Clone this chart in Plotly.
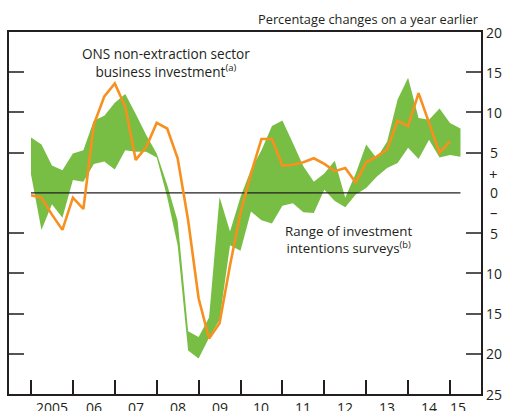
import plotly.graph_objects as go

# Quarterly observations, 2005 Q1 onwards
start_year = 2005

survey_upper = [6.9, 6.0, 3.4, 2.8, 4.9, 5.3, 9.0, 9.6, 11.2, 12.3, 9.8, 7.2,
                4.9, 1.0, -3.5, -17.2, -17.9, -15.5, -0.5, -4.8, -0.5, 2.9,
                5.3, 8.3, 9.0, 6.2, 3.3, 1.4, 2.4, 4.0, -0.6, 2.4, 6.0, 4.3,
                6.4, 11.6, 14.3, 9.3, 9.1, 10.5, 8.7, 8.0]
survey_lower = [2.3, -4.6, -1.4, -3.1, 1.6, 1.4, 3.6, 3.9, 2.9, 5.3, 5.1, 5.1,
                4.4, -0.5, -6.5, -19.6, -20.6, -18.0, -15.8, -6.5, -7.2, -2.3,
                -3.4, -3.8, -1.6, -1.3, -2.4, -2.5, 0.4, -1.0, -1.8, -0.2, 0.6,
                2.0, 3.1, 3.7, 5.6, 4.2, 6.6, 4.4, 4.7, 4.5]
ons_investment = [-0.3, -0.6, -2.7, -4.6, -0.6, -2.0, 8.5, 12.0, 13.6, 10.7, 4.1,
                  5.7, 8.7, 8.0, 4.3, -3.4, -13.1, -18.1, -16.2, -9.0, -2.5, 2.4,
                  6.7, 6.7, 3.4, 3.5, 3.8, 4.3, 3.6, 2.7, 3.1, 1.3, 3.8, 4.5,
                  5.4, 9.0, 8.3, 12.4, 8.7, 5.0, 6.4]

year_labels = ["2005", "06", "07", "08", "09", "10", "11", "12", "13", "14", "15"]
y_tick_values = [20, 15, 10, 5, 0, -5, -10, -15, -20, -25]
y_tick_labels = ["20", "15", "10", "5", "0", "5", "10", "15", "20", "25"]

GREEN = "#78BE44"
ORANGE = "#F7901E"
FONT = "Open Sans"
INK = "#231F20"

t_band = [start_year + i / 4 for i in range(len(survey_upper))]
t_ons = [start_year + i / 4 for i in range(len(ons_investment))]

fig = go.Figure()
fig.add_trace(go.Scatter(
    x=t_band + t_band[::-1],
    y=survey_upper + survey_lower[::-1],
    fill="toself", fillcolor=GREEN, mode="none", hoverinfo="skip",
    showlegend=False))
fig.add_trace(go.Scatter(
    x=[t_band[0], t_band[-1]], y=[0, 0], mode="lines",
    line=dict(color=INK, width=1.2), showlegend=False, hoverinfo="skip"))
fig.add_trace(go.Scatter(
    x=t_ons, y=ons_investment, mode="lines",
    line=dict(color=ORANGE, width=2.6), showlegend=False))

annotations = []
for k, lab in enumerate(year_labels):
    xc = start_year + k + 0.5 if k < len(year_labels) - 1 else start_year + k + 0.19
    annotations.append(dict(x=xc, y=-0.036, xref="x", yref="paper", text=lab,
                            showarrow=False, xanchor="center", yanchor="middle",
                            font=dict(size=14, color=INK, family=FONT)))
for v, lab in zip(y_tick_values, y_tick_labels):
    annotations.append(dict(x=1.0275, y=v, xref="paper", yref="y", text=lab,
                            showarrow=False, xanchor="center", yanchor="middle",
                            font=dict(size=14, color=INK, family=FONT)))
annotations.append(dict(x=1.0275, y=2.4, xref="paper", yref="y", text="+",
                        showarrow=False, xanchor="center", yanchor="middle",
                        font=dict(size=15, color=INK, family=FONT)))
annotations.append(dict(x=1.0275, y=-2.4, xref="paper", yref="y", text="–",
                        showarrow=False, xanchor="center", yanchor="middle",
                        font=dict(size=15, color=INK, family=FONT)))
annotations.append(dict(x=1.0, y=1.036, xref="paper", yref="paper",
                        text="Percentage changes on a year earlier",
                        showarrow=False, xanchor="right", yanchor="middle",
                        font=dict(size=12.8, color=INK, family=FONT)))
annotations.append(dict(x=2008.22, y=16.2, xref="x", yref="y",
                        text="ONS non-extraction sector<br>business investment<sup>(a)</sup>",
                        showarrow=False, xanchor="center", yanchor="middle", align="center",
                        font=dict(size=13.6, color=INK, family=FONT)))
annotations.append(dict(x=2012.57, y=-5.85, xref="x", yref="y",
                        text="Range of investment<br>intentions surveys<sup>(b)</sup>",
                        showarrow=False, xanchor="center", yanchor="middle", align="center",
                        font=dict(size=13.3, color=INK, family=FONT)))

fig.update_layout(
    width=506, height=411,
    margin=dict(l=9, r=25, t=32, b=17),
    paper_bgcolor="white", plot_bgcolor="white",
    showlegend=False,
    annotations=annotations,
    font=dict(family=FONT, color=INK),
    xaxis=dict(range=[2004.475, 2015.74], showgrid=False, zeroline=False,
               tickvals=list(range(2005, 2016)), ticks="inside", ticklen=14,
               tickwidth=1.5, tickcolor=INK, showticklabels=False,
               showline=True, linecolor=INK, linewidth=1.5, mirror=True),
    yaxis=dict(range=[-25, 20], showgrid=False, zeroline=False,
               tickvals=[15, 10, 5, -5, -10, -15, -20], ticks="inside", ticklen=15,
               tickwidth=1.5, tickcolor="#555555", showticklabels=False,
               showline=True, linecolor=INK, linewidth=1.5, mirror="ticks"),
)

fig.write_html("out.html", config={"displayModeBar": False},
               post_script="document.body.style.margin='0';")
